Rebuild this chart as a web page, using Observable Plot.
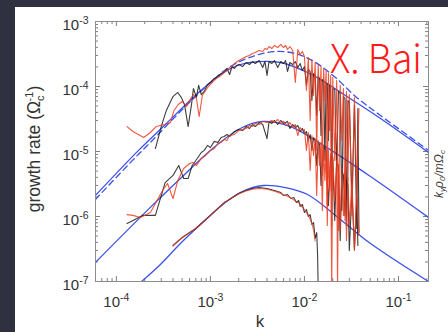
<!DOCTYPE html>
<html><head><meta charset="utf-8">
<script src="https://cdn.jsdelivr.net/npm/d3@7"></script>
<script src="https://cdn.jsdelivr.net/npm/@observablehq/plot@0.6"></script>
<style>
html,body{margin:0;padding:0;width:448px;height:332px;overflow:hidden;background:#2f3040;}
#panel{position:absolute;left:15px;top:7px;width:433px;height:325px;background:#fff;overflow:hidden;}
</style></head>
<body><div id="panel"></div>
<script>
// ---- axes / ticks ----
const xDomain = [6e-5, 0.2085];
const yDomain = [1e-7, 1e-3];
const xMajor = [1e-4, 1e-3, 1e-2, 1e-1];
const yMajor = [1e-7, 1e-6, 1e-5, 1e-4, 1e-3];
const minorMantissas = [2, 3, 4, 5, 6, 7, 8, 9];
const xLabel = "k";
const yLabelMain = "growth rate (Ω";
const sideLabel = ["k", "y", "ρ", "0", "/mΩ", "c"];
const watermark = "X. Bai";

// ---- theory curves (blue) ----
const kT1 = [5.98e-5, 1.72e-4, 3.08e-4, 6.92e-4, 1.37e-3, 2.08e-3, 3.24e-3, 5.55e-3, 1.08e-2, 1.67e-2, 2.73e-2, 6.44e-2, 0.2085];
const gT1 = [2.10e-6, 1.04e-5, 2.34e-5, 7.27e-5, 1.64e-4, 2.18e-4, 2.42e-4, 2.34e-4, 1.64e-4, 1.15e-4, 7.27e-5, 3.22e-5, 9.66e-6];
const kT1d = [5.98e-5, 1.59e-4, 2.30e-4, 5.16e-4, 1.0e-3, 1.63e-3, 3.01e-3, 4.91e-3, 8.02e-3, 1.31e-2, 2.14e-2, 3.49e-2, 6.44e-2, 0.2085];
const gT1d = [1.83e-6, 8.09e-6, 1.38e-5, 4.59e-5, 1.15e-4, 2.03e-4, 3.00e-4, 3.45e-4, 3.22e-4, 2.34e-4, 1.37e-4, 7.02e-5, 3.58e-5, 1.04e-5];
const kT2 = [5.98e-5, 2.30e-4, 4.80e-4, 1.0e-3, 2.08e-3, 3.57e-3, 7.10e-3, 1.67e-2, 5.04e-2, 0.2085];
const gT2 = [1.96e-7, 1.38e-6, 3.84e-6, 1.04e-5, 2.26e-5, 2.90e-5, 2.42e-5, 1.19e-5, 4.12e-6, 9.65e-7];
const kT3 = [1.80e-4, 2.94e-4, 4.80e-4, 7.83e-4, 1.28e-3, 2.08e-3, 3.66e-3, 6.28e-3, 1.08e-2, 2.41e-2, 5.04e-2, 0.2085];
const gT3 = [9.65e-8, 1.83e-7, 3.84e-7, 7.53e-7, 1.43e-6, 2.34e-6, 3.00e-6, 2.79e-6, 2.18e-6, 8.99e-7, 3.84e-7, 1.0e-7];

// ---- simulation curves: group 1 ----
const kS1b = [2.6e-4,3.0e-4,3.4e-4,4.0e-4,4.5e-4,4.9e-4,5.3e-4,5.8e-4,6.3e-4,6.6e-4,7.1e-4,7.5e-4,8.0e-4,8.6e-4,9.3e-4,1.0e-3,1.1e-3,1.2e-3,1.3e-3,1.4e-3,1.5e-3,1.6e-3,1.7e-3,1.8e-3,1.9e-3,2.0e-3,2.2e-3,2.4e-3,2.6e-3,2.8e-3,3.0e-3,3.3e-3,3.6e-3,3.8e-3,4.0e-3,4.2e-3,4.5e-3,4.8e-3,5.2e-3,5.6e-3,6.0e-3,6.3e-3,6.6e-3,7.0e-3,7.5e-3,8.0e-3,8.5e-3,9.0e-3,9.5e-3,1.0e-2,1.05e-2,1.1e-2,1.15e-2,1.2e-2,1.25e-2,1.3e-2,1.35e-2,1.4e-2,1.45e-2,1.5e-2,1.55e-2,1.6e-2,1.65e-2,1.7e-2,1.75e-2,1.8e-2,1.85e-2,1.9e-2,1.95e-2,2.0e-2,2.1e-2,2.2e-2,2.3e-2,2.4e-2,2.5e-2,2.6e-2,2.7e-2,2.8e-2,2.9e-2,3.0e-2,3.2e-2,3.4e-2,3.6e-2,3.7e-2,3.8e-2];
const gS1b = [1.11e-5,2.42e-5,4.28e-5,7.0e-5,8.1e-5,6.8e-5,5.3e-5,2.42e-5,5.3e-5,9.3e-5,6.8e-5,1.04e-4,7.5e-5,8.4e-5,1.07e-4,1.15e-4,1.33e-4,1.43e-4,1.58e-4,1.64e-4,1.89e-4,1.53e-4,2.03e-4,1.89e-4,2.10e-4,2.18e-4,2.03e-4,2.34e-4,2.18e-4,2.42e-4,2.26e-4,2.51e-4,1.96e-4,2.42e-4,1.48e-4,2.42e-4,2.26e-4,2.51e-4,1.96e-4,2.42e-4,2.26e-4,2.51e-4,1.70e-4,2.34e-4,2.18e-4,2.42e-4,1.96e-4,2.26e-4,1.76e-4,2.03e-4,1.04e-4,1.83e-4,1.70e-4,6.09e-5,1.58e-4,1.48e-4,3.58e-5,1.43e-4,1.33e-4,1.76e-5,1.28e-4,1.24e-4,7.27e-6,1.15e-4,1.11e-4,1.48e-5,1.04e-4,1.0e-4,2.51e-6,9.31e-5,9.0e-5,5.10e-6,8.38e-5,7.8e-5,1.24e-6,7.02e-5,6.54e-5,7.27e-7,6.09e-5,5.68e-5,1.76e-6,5.10e-5,6.54e-7,4.59e-5,5.7e-7];
const kS1r = [1.3e-4,1.5e-4,1.95e-4,2.3e-4,2.65e-4,3.25e-4,3.75e-4,4.1e-4,4.55e-4,5.0e-4,5.55e-4,6.0e-4,6.6e-4,7.1e-4,7.6e-4,8.2e-4,8.9e-4,9.5e-4,1.02e-3,1.1e-3,1.2e-3,1.3e-3,1.4e-3,1.5e-3,1.6e-3,1.7e-3,1.8e-3,2.0e-3,2.2e-3,2.4e-3,2.6e-3,2.8e-3,3.0e-3,3.3e-3,3.6e-3,3.8e-3,4.0e-3,4.2e-3,4.5e-3,4.8e-3,5.2e-3,5.6e-3,6.0e-3,6.3e-3,6.6e-3,7.0e-3,7.5e-3,8.0e-3,8.5e-3,9.0e-3,9.5e-3,1.0e-2,1.05e-2,1.1e-2,1.15e-2,1.2e-2,1.25e-2,1.3e-2,1.35e-2,1.4e-2,1.45e-2,1.5e-2,1.55e-2,1.6e-2,1.65e-2,1.7e-2,1.75e-2,1.8e-2,1.85e-2,1.9e-2,1.95e-2,2.0e-2,2.1e-2,2.2e-2,2.3e-2,2.4e-2,2.5e-2,2.6e-2,2.7e-2,2.8e-2,2.9e-2,3.0e-2,3.2e-2,3.4e-2,3.6e-2,3.8e-2];
const gS1r = [2.42e-5,2.03e-5,1.64e-5,1.96e-5,2.42e-5,2.60e-5,2.79e-5,4.28e-5,5.29e-5,5.88e-5,4.93e-5,6.09e-5,7.53e-5,6.54e-5,3.45e-5,7.27e-5,8.68e-5,1.0e-4,1.11e-4,1.24e-4,1.38e-4,1.48e-4,1.64e-4,1.76e-4,1.96e-4,2.03e-4,2.26e-4,2.51e-4,2.70e-4,2.90e-4,3.0e-4,3.22e-4,3.33e-4,3.58e-4,3.45e-4,3.84e-4,3.71e-4,4.12e-4,3.84e-4,4.28e-4,3.98e-4,4.43e-4,3.98e-4,4.28e-4,3.71e-4,4.12e-4,3.58e-4,1.15e-4,3.71e-4,3.11e-4,3.45e-4,2.9e-4,8.7e-5,2.79e-4,3.0e-5,2.6e-4,7.27e-5,2.34e-4,1.04e-5,2.18e-4,4.28e-5,2.03e-4,4.28e-6,1.89e-4,6.09e-5,1.76e-4,1.48e-6,1.58e-4,2.1e-5,1.48e-4,7.27e-7,1.38e-4,7.27e-6,1.24e-4,6.09e-7,1.04e-4,1.48e-5,9.31e-5,8.68e-7,8.38e-5,3.58e-6,7.53e-5,1.04e-6,6.78e-5,2.51e-6,4.59e-5];

// ---- simulation curves: group 2 ----
const kS2b = [1.3e-4,1.9e-4,2.6e-4,3.3e-4,4.0e-4,4.6e-4,5.2e-4,5.8e-4,6.4e-4,7.0e-4,8.0e-4,8.6e-4,9.3e-4,1.0e-3,1.1e-3,1.2e-3,1.3e-3,1.4e-3,1.5e-3,1.6e-3,1.8e-3,2.0e-3,2.2e-3,2.4e-3,2.6e-3,2.8e-3,3.0e-3,3.3e-3,3.6e-3,4.0e-3,4.2e-3,4.5e-3,4.8e-3,5.2e-3,5.6e-3,6.0e-3,6.6e-3,7.0e-3,7.5e-3,8.0e-3,8.5e-3,9.0e-3,9.5e-3,1.0e-2,1.05e-2,1.1e-2,1.15e-2,1.2e-2,1.25e-2,1.3e-2,1.35e-2,1.4e-2,1.45e-2,1.5e-2,1.6e-2,1.7e-2,1.8e-2,1.9e-2,2.0e-2,2.1e-2,2.2e-2,2.3e-2,2.4e-2,2.5e-2,2.6e-2,2.7e-2,2.8e-2,2.9e-2,3.0e-2,3.2e-2,3.4e-2,3.6e-2,3.7e-2];
const gS2b = [7.8e-7,1.04e-6,1.04e-6,3.33e-6,4.28e-6,6.09e-6,3.84e-6,3.84e-6,6.09e-6,7.27e-6,9.66e-6,1.04e-5,1.24e-5,1.15e-5,1.43e-5,1.38e-5,1.64e-5,1.70e-5,1.83e-5,1.70e-5,2.03e-5,2.18e-5,2.10e-5,2.42e-5,2.26e-5,2.60e-5,2.42e-5,2.79e-5,2.60e-5,1.58e-5,2.90e-5,2.70e-5,3.0e-5,2.60e-5,3.0e-5,2.70e-5,2.90e-5,2.26e-5,2.60e-5,2.34e-5,2.51e-5,2.03e-5,2.26e-5,1.89e-5,2.03e-5,1.48e-5,1.83e-5,1.04e-5,1.64e-5,1.48e-5,6.09e-6,1.38e-5,1.28e-5,3.0e-6,1.19e-5,1.04e-5,1.48e-6,8.68e-6,7.8e-6,8.68e-7,6.78e-6,5.9e-6,4.28e-7,5.10e-6,4.28e-6,1.04e-6,3.58e-6,3.0e-6,3.0e-7,2.51e-6,3.1e-7,1.89e-6,3.58e-7];
const kS2r = [1.3e-4,1.5e-4,1.8e-4,2.3e-4,3.1e-4,3.5e-4,4.0e-4,4.5e-4,5.2e-4,6.0e-4,6.5e-4,7.1e-4,8.0e-4,8.9e-4,1.0e-3,1.1e-3,1.2e-3,1.3e-3,1.4e-3,1.5e-3,1.6e-3,1.8e-3,2.0e-3,2.2e-3,2.4e-3,2.6e-3,2.8e-3,3.0e-3,3.3e-3,3.6e-3,4.0e-3,4.5e-3,4.8e-3,5.2e-3,5.6e-3,6.0e-3,6.6e-3,7.0e-3,7.5e-3,8.0e-3,8.5e-3,9.0e-3,9.5e-3,1.0e-2,1.05e-2,1.1e-2,1.15e-2,1.2e-2,1.25e-2,1.3e-2,1.35e-2,1.4e-2,1.45e-2,1.5e-2,1.55e-2,1.6e-2,1.65e-2,1.7e-2,1.75e-2,1.8e-2,1.85e-2,1.9e-2,1.95e-2,2.0e-2,2.1e-2,2.2e-2,2.25e-2,2.3e-2,2.4e-2,2.5e-2,2.6e-2,2.7e-2,2.8e-2,2.9e-2,3.0e-2,3.2e-2,3.4e-2,3.6e-2,3.8e-2];
const gS2r = [1.07e-6,1.04e-6,9.66e-7,1.15e-6,2.51e-6,3.22e-6,1.89e-6,3.58e-6,5.47e-6,6.54e-6,6.78e-6,6.09e-6,7.8e-6,8.68e-6,1.04e-5,1.11e-5,1.33e-5,1.38e-5,1.53e-5,1.48e-5,1.76e-5,1.83e-5,2.10e-5,2.18e-5,2.26e-5,2.51e-5,2.42e-5,2.70e-5,2.60e-5,2.90e-5,2.79e-5,3.0e-5,2.79e-5,3.11e-5,2.70e-5,2.90e-5,2.51e-5,2.79e-5,2.34e-5,2.60e-5,1.76e-5,2.34e-5,2.10e-5,2.18e-5,1.04e-5,1.96e-5,5.10e-6,1.76e-5,8.68e-6,1.58e-5,2.10e-6,1.48e-5,6.09e-6,1.38e-5,1.24e-6,1.24e-5,3.58e-6,1.11e-5,7.27e-7,1.04e-5,2.51e-6,9.31e-6,8e-8,8.38e-6,1.76e-6,7.27e-6,8e-8,6.31e-6,6.09e-7,5.47e-6,1.04e-6,4.75e-6,4.28e-7,3.98e-6,7.27e-7,3.33e-6,3.0e-7,2.51e-6,5.10e-7];

// ---- simulation curves: group 3 ----
const kS3b = [4.0e-4,4.5e-4,5.0e-4,6.0e-4,7.0e-4,8.0e-4,9.0e-4,1.0e-3,1.2e-3,1.4e-3,1.6e-3,2.0e-3,2.4e-3,2.8e-3,3.3e-3,4.0e-3,4.8e-3,5.6e-3,6.0e-3,6.6e-3,7.2e-3,7.7e-3,8.2e-3,8.7e-3,9.0e-3,9.5e-3,1.0e-2,1.05e-2,1.1e-2,1.15e-2,1.2e-2,1.25e-2,1.3e-2,1.35e-2,1.38e-2,1.40e-2];
const gS3b = [3.58e-7,4.12e-7,4.75e-7,5.67e-7,6.54e-7,7.8e-7,9.0e-7,1.04e-6,1.33e-6,1.64e-6,1.83e-6,2.26e-6,2.51e-6,2.70e-6,2.79e-6,2.70e-6,2.51e-6,2.34e-6,2.10e-6,2.18e-6,1.89e-6,1.96e-6,1.64e-6,1.76e-6,1.43e-6,1.53e-6,1.15e-6,1.28e-6,1.0e-6,1.07e-6,7.53e-7,8.09e-7,4.59e-7,5.67e-7,2.51e-7,8e-8];
const kS3r = [4.0e-4,4.5e-4,5.0e-4,6.0e-4,7.0e-4,8.0e-4,9.0e-4,1.0e-3,1.2e-3,1.4e-3,1.6e-3,2.0e-3,2.4e-3,2.8e-3,3.3e-3,4.0e-3,4.8e-3,5.6e-3,6.0e-3,6.6e-3,7.2e-3,7.7e-3,8.2e-3,8.7e-3,9.0e-3,9.5e-3,1.0e-2,1.05e-2,1.1e-2,1.15e-2,1.2e-2,1.25e-2,1.3e-2];
const gS3r = [3.5e-7,4.2e-7,4.7e-7,5.6e-7,6.6e-7,7.7e-7,9.1e-7,1.03e-6,1.32e-6,1.62e-6,1.85e-6,2.22e-6,2.48e-6,2.62e-6,2.70e-6,2.62e-6,2.45e-6,2.26e-6,2.15e-6,2.05e-6,1.92e-6,1.80e-6,1.70e-6,1.62e-6,1.55e-6,1.38e-6,1.28e-6,1.15e-6,1.05e-6,9.0e-7,7.8e-7,6.2e-7,4.2e-7];

// ---- build tables ----
const zip = (ks, gs) => ks.map((k, i) => ({k, g: gs[i]}));
const W = 433, H = 325, mL = 80, mR = 20, mT = 14, mB = 51;
const pw = W - mL - mR, ph = H - mT - mB;
const xMinor = [1e-5, 1e-4, 1e-3, 1e-2, 1e-1].flatMap(d => minorMantissas.map(m => m * d)).filter(v => v >= xDomain[0] && v <= xDomain[1]);
const yMinor = [1e-7, 1e-6, 1e-5, 1e-4].flatMap(d => minorMantissas.map(m => m * d));

const BLUE = "#3c52ea", BLACK = "#1c1c1c", RED = "#ec3a1c", TICK = "#808080";
const fmt = d => "10^" + Math.round(Math.log10(d));
const lineOpts = (stroke, extra = {}) => ({x: "k", y: "g", stroke, strokeWidth: 1.1, clip: true, ...extra});

const chart = Plot.plot({
  width: W, height: H, marginLeft: mL, marginRight: mR, marginTop: mT, marginBottom: mB,
  style: {background: "white", fontFamily: "Liberation Sans, Arial, sans-serif", fontSize: "15px", color: "#333"},
  x: {type: "log", domain: xDomain},
  y: {type: "log", domain: yDomain},
  marks: [
    Plot.tickX(xMinor, {x: d => d, insetTop: ph - 3, stroke: TICK}),
    Plot.tickX(xMinor, {x: d => d, insetBottom: ph - 3, stroke: TICK}),
    Plot.tickX(xMajor, {x: d => d, insetTop: ph - 5, stroke: TICK}),
    Plot.tickX(xMajor, {x: d => d, insetBottom: ph - 5, stroke: TICK}),
    Plot.tickY(yMinor, {y: d => d, insetRight: pw - 3, stroke: TICK}),
    Plot.tickY(yMinor, {y: d => d, insetLeft: pw - 3, stroke: TICK}),
    Plot.tickY(yMajor, {y: d => d, insetRight: pw - 5, stroke: TICK}),
    Plot.tickY(yMajor, {y: d => d, insetLeft: pw - 5, stroke: TICK}),
    Plot.line(zip(kT1, gT1), lineOpts(BLUE, {strokeWidth: 1.3, curve: "catmull-rom"})),
    Plot.line(zip(kT1d, gT1d), lineOpts(BLUE, {strokeWidth: 1.3, curve: "catmull-rom", strokeDasharray: "6,4"})),
    Plot.line(zip(kT2, gT2), lineOpts(BLUE, {strokeWidth: 1.3, curve: "catmull-rom"})),
    Plot.line(zip(kT3, gT3), lineOpts(BLUE, {strokeWidth: 1.3, curve: "catmull-rom"})),
    Plot.line(zip(kS1b, gS1b), lineOpts(BLACK, {strokeOpacity: 0.85})),
    Plot.line(zip(kS2b, gS2b), lineOpts(BLACK, {strokeOpacity: 0.85})),
    Plot.line(zip(kS3b, gS3b), lineOpts(BLACK, {strokeOpacity: 0.85})),
    Plot.line(zip(kS1r, gS1r), lineOpts(RED, {strokeOpacity: 0.85})),
    Plot.line(zip(kS2r, gS2r), lineOpts(RED, {strokeOpacity: 0.85})),
    Plot.line(zip(kS3r, gS3r), lineOpts(RED, {strokeOpacity: 0.75})),
    Plot.frame({stroke: "#8c8c8c"}),
    Plot.axisX({ticks: xMajor, tickSize: 0, tickPadding: 15, tickFormat: fmt, label: null, fontSize: 15}),
    Plot.axisY({ticks: yMajor, tickSize: 0, tickPadding: 7, dy: 4, tickFormat: fmt, label: null, fontSize: 15})
  ]
});

const NS = "http://www.w3.org/2000/svg";
function tspan(parent, text, attrs = {}) {
  const t = document.createElementNS(NS, "tspan");
  t.textContent = text;
  for (const [k, v] of Object.entries(attrs)) t.setAttribute(k, v);
  parent.appendChild(t);
  return t;
}
// superscript exponents on tick labels
chart.querySelectorAll('g[aria-label$="tick label"] text').forEach(t => {
  const parts = t.textContent.split("^");
  if (parts.length < 2) return;
  t.textContent = "";
  tspan(t, parts[0]);
  tspan(t, parts[1], {dy: "-6", "font-size": "10.5"});
});

const svg = d3.select(chart);
// y label
const yl = svg.append("text")
  .attr("transform", "translate(25,142) rotate(-90)")
  .attr("text-anchor", "middle")
  .attr("font-size", 17.5).attr("fill", "#333")
  .attr("font-family", "Liberation Sans, Arial, sans-serif");
tspan(yl.node(), yLabelMain);
tspan(yl.node(), "c", {dy: "4", "font-size": "11"});
tspan(yl.node(), "-1", {dy: "-11", dx: "-6", "font-size": "11"});
tspan(yl.node(), ")", {dy: "7"});
// x label
svg.append("text").attr("x", 245).attr("y", 320).attr("text-anchor", "middle")
  .attr("font-size", 17).attr("fill", "#333")
  .attr("font-family", "Liberation Sans, Arial, sans-serif").text(xLabel);
// side label at the right edge
const sl = svg.append("text")
  .attr("transform", "translate(428,167) rotate(-90)")
  .attr("text-anchor", "middle").attr("font-style", "italic")
  .attr("font-size", 12).attr("fill", "#444")
  .attr("font-family", "Liberation Sans, Arial, sans-serif");
tspan(sl.node(), sideLabel[0]);
tspan(sl.node(), sideLabel[1], {dy: "2", "font-size": "8"});
tspan(sl.node(), sideLabel[2], {dy: "-2"});
tspan(sl.node(), sideLabel[3], {dy: "2", "font-size": "8"});
tspan(sl.node(), sideLabel[4], {dy: "-2"});
tspan(sl.node(), sideLabel[5], {dy: "2", "font-size": "8"});
// watermark
svg.append("text").attr("x", 315).attr("y", 66)
  .attr("text-anchor", "start")
  .attr("font-size", 40).attr("fill", "#ff1a1a")
  .attr("textLength", 92).attr("lengthAdjust", "spacingAndGlyphs")
  .attr("font-family", "Noto Sans CJK SC, Noto Sans, sans-serif")
  .attr("font-weight", 300).text(watermark);

document.getElementById("panel").appendChild(chart);
</script>
</body></html>
